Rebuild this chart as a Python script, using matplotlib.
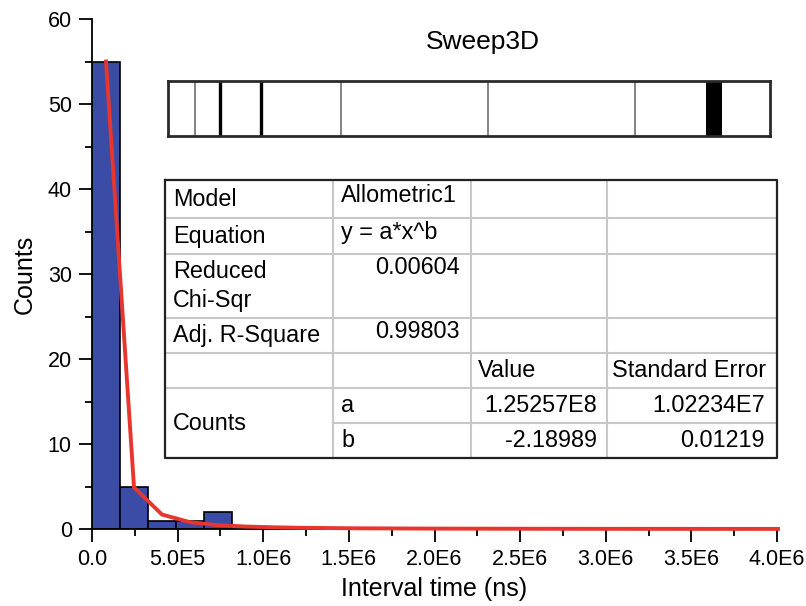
import matplotlib
matplotlib.use("Agg")
import matplotlib.pyplot as plt
from matplotlib.ticker import MultipleLocator, FuncFormatter

plt.rcParams['font.family'] = ['Liberation Sans', 'DejaVu Sans']

# === data ===
bin_width = 1.635e5
counts = [55, 5, 1, 1, 2]
fit_counts = [55, 4.9, 1.7, 0.8, 0.45, 0.29, 0.2, 0.14, 0.11, 0.08, 0.07, 0.055, 0.045,
              0.04, 0.035, 0.03, 0.025, 0.022, 0.02, 0.018, 0.016, 0.014, 0.013, 0.012, 0.011]

# event strip (fraction of strip width)
strip_thin = [0.045, 0.287, 0.532, 0.776]
strip_thick = [0.086, 0.154]
strip_block = (0.894, 0.920)

table_rows = [
    ["Model", "Allometric1", "", ""],
    ["Equation", "y = a*x^b", "", ""],
    ["Reduced\nChi-Sqr", "0.00604", "", ""],
    ["Adj. R-Square", "0.99803", "", ""],
    ["", "", "Value", "Standard Error"],
    ["Counts", "a", "1.25257E8", "1.02234E7"],
    ["", "b", "-2.18989", "0.01219"],
]

W, H = 806, 606
fig = plt.figure(figsize=(W / 100, H / 100), dpi=100)

def box(l, t, r, b):
    return [l / W, 1 - b / H, (r - l) / W, (b - t) / H]

# === histogram ===
ax = fig.add_axes(box(92, 19, 777, 529))
edges = [i * bin_width for i in range(len(counts))]
ax.bar(edges, counts, width=bin_width, align='edge', color='#3A4CA6',
       edgecolor='black', linewidth=1.2, zorder=2)
centers = [(i + 0.5) * bin_width for i in range(len(fit_counts))]
ax.plot(centers, fit_counts, color='#E8352E', linewidth=2.8, zorder=3, clip_on=False)

ax.set_xlim(0, 4.0e6)
ax.set_ylim(0, 60)
ax.xaxis.set_major_locator(MultipleLocator(5e5))
ax.xaxis.set_minor_locator(MultipleLocator(2.5e5))
ax.yaxis.set_major_locator(MultipleLocator(10))
ax.yaxis.set_minor_locator(MultipleLocator(5))

def xfmt(v, pos):
    if v == 0:
        return "0.0"
    s = "%.1E" % v
    m, e = s.split("E")
    return "%sE%d" % (m, int(e))

ax.xaxis.set_major_formatter(FuncFormatter(xfmt))
for s in ['top', 'right']:
    ax.spines[s].set_visible(False)
for s in ['left', 'bottom']:
    ax.spines[s].set_linewidth(1.3)
ax.tick_params(which='major', direction='out', length=9.5, width=1.3, labelsize=15.5, pad=5)
ax.tick_params(which='minor', direction='out', length=5, width=1.3)
ax.set_xlabel("Interval time (ns)", fontsize=18, labelpad=5)
ax.set_ylabel("Counts", fontsize=18, labelpad=8)

# === event strip ===
sx = fig.add_axes(box(168, 81, 770, 136))
sx.set_xlim(0, 1)
sx.set_ylim(0, 1)
sx.set_xticks([])
sx.set_yticks([])
for s in sx.spines.values():
    s.set_linewidth(2.0)
    s.set_color('#2A2A2A')
for x in strip_thin:
    sx.axvline(x, color='#7A7A7A', linewidth=1.3)
for x in strip_thick:
    sx.axvline(x, color='black', linewidth=2.4)
sx.axvspan(strip_block[0], strip_block[1], color='black', linewidth=0)
fig.text(483 / W, 1 - 42 / H, "Sweep3D", fontsize=19, ha='center', va='center')

# === fit table ===
col_edges = [165, 333, 471, 607, 777]
row_edges = [180, 218, 254, 318, 353, 388, 423, 458]
tx = fig.add_axes(box(165, 180, 777, 458))
tx.set_xlim(165, 777)
tx.set_ylim(458, 180)
tx.axis('off')
tx.patch.set_visible(False)
grid = '#C8C8C8'
for c in col_edges[1:-1]:
    tx.plot([c, c], [180, 458], color=grid, lw=1.5)
for r in row_edges[1:-1]:
    if r == 423:
        tx.plot([333, 777], [r, r], color=grid, lw=1.5)
    else:
        tx.plot([165, 777], [r, r], color=grid, lw=1.5)
tx.plot([165, 777, 777, 165, 165], [180, 180, 458, 458, 180], color='#222222', lw=1.6,
        clip_on=False)

fs = 16.8
for i, row in enumerate(table_rows):
    top, bot = row_edges[i], row_edges[i + 1]
    mid = (top + bot) / 2
    # first column
    if row[0]:
        y0 = mid
        if row[0] == "Counts":
            y0 = (row_edges[5] + row_edges[7]) / 2
        tx.text(173, y0, row[0], fontsize=fs, ha='left', va='center', linespacing=1.3)
    if row[1]:
        if i in (2, 3):
            tx.text(460, top + 14, row[1], fontsize=fs, ha='right', va='center')
        elif i in (0, 1):
            tx.text(341, mid - 3, row[1], fontsize=fs, ha='left', va='center')
        else:
            tx.text(341, mid, row[1], fontsize=fs, ha='left', va='center')
    if row[2]:
        if i == 4:
            tx.text(478, mid, row[2], fontsize=fs, ha='left', va='center')
        else:
            tx.text(597, mid, row[2], fontsize=fs, ha='right', va='center')
    if row[3]:
        if i == 4:
            tx.text(612, mid, row[3], fontsize=fs, ha='left', va='center')
        else:
            tx.text(765, mid, row[3], fontsize=fs, ha='right', va='center')

fig.savefig("out.png", dpi=100)
